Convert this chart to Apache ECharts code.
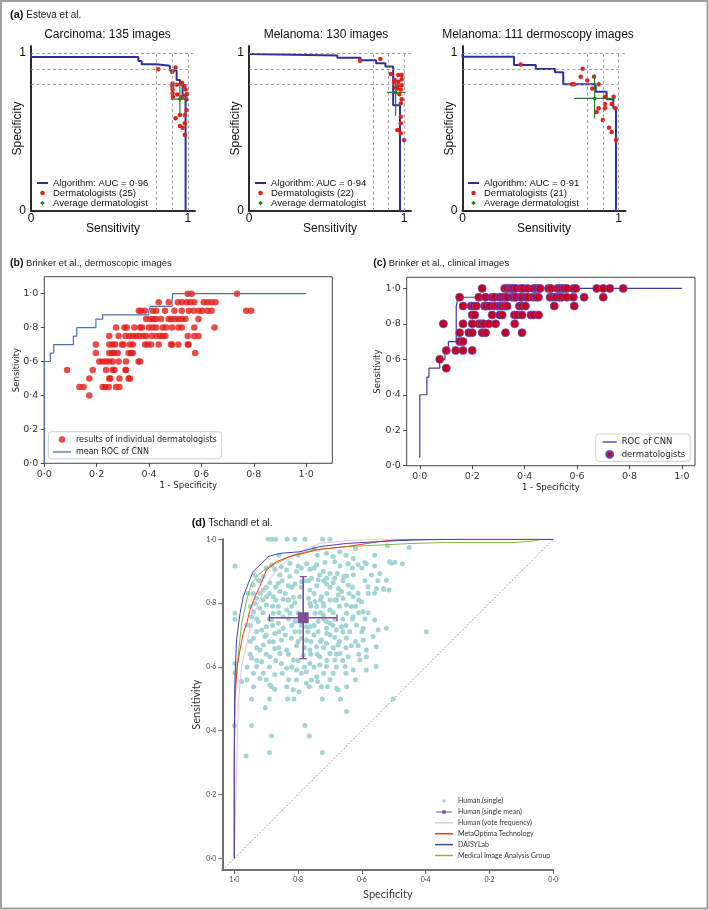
<!DOCTYPE html>
<html><head><meta charset="utf-8">
<script src="https://cdn.jsdelivr.net/npm/echarts@6/dist/echarts.min.js"></script>
<style>html,body{margin:0;padding:0;background:#fff}#c{width:709px;height:910px}</style>
</head><body><div id="c"></div>
<script>
// ---------------- Panel (a) Esteva et al. ----------------
const aTitles = ['Carcinoma: 135 images', 'Melanoma: 130 images', 'Melanoma: 111 dermoscopy images'];
const aAucNames = ['Algorithm: AUC = 0\u00b796', 'Algorithm: AUC = 0\u00b794', 'Algorithm: AUC = 0\u00b791'];
const aDermNames = ['Dermatologists (25)', 'Dermatologists (22)', 'Dermatologists (21)'];
const aRefSpec = [1.0, 0.9, 0.8];
const aRefSens = [0.8, 0.9, 1.0];
// [sensitivity, specificity] corners of the algorithm ROC
const a1Roc = [[0,0.995],[0.684,0.975],[0.705,0.95],[0.80,0.93],[0.885,0.92],[0.928,0.89],[0.949,0.83],[0.966,0.80],[0.985,0.73],[0.998,0]];
const a2Roc = [[0,0.995],[0.57,0.985],[0.72,0.97],[0.82,0.955],[0.88,0.935],[0.93,0.915],[0.974,0.67],[1.0,0]];
const a3Roc = [[0,0.995],[0.33,0.977],[0.47,0.924],[0.593,0.899],[0.646,0.878],[0.854,0.802],[0.924,0.755],[0.967,0.707],[0.984,0.65],[1.0,0]];
const a1Derm = [[0.811,0.897],[0.900,0.882],[0.921,0.909],[0.902,0.808],[0.900,0.791],[0.902,0.770],[0.962,0.812],[0.977,0.791],[0.932,0.738],[0.904,0.724],[0.985,0.770],[0.995,0.741],[0.991,0.639],[0.980,0.608],[0.949,0.608],[0.921,0.587],[0.949,0.538],[0.966,0.527],[0.980,0.555],[0.980,0.481],[0.990,0.707],[0.990,0.738],[0.902,0.745],[0.960,0.72],[0.930,0.80]];
const a2Derm = [[0.716,0.951],[0.847,0.962],[0.914,0.867],[0.963,0.861],[0.985,0.861],[0.935,0.814],[0.963,0.818],[0.985,0.835],[0.957,0.776],[0.979,0.770],[0.985,0.707],[0.979,0.682],[0.979,0.597],[0.979,0.555],[0.957,0.513],[0.979,0.492],[1.0,0.449],[0.963,0.797],[0.946,0.78],[0.985,0.797],[0.94,0.83],[0.97,0.74]];
const a3Derm = [[0.373,0.928],[0.770,0.901],[0.758,0.850],[0.80,0.827],[0.843,0.850],[0.702,0.802],[0.715,0.802],[0.832,0.776],[0.873,0.802],[0.913,0.724],[0.969,0.724],[0.913,0.677],[0.956,0.677],[0.913,0.65],[0.873,0.65],[0.86,0.627],[0.899,0.576],[0.939,0.527],[0.956,0.5],[0.984,0.449],[0.98,0.65]];
// average dermatologist: [sens, spec], sens range, spec range
const a1Avg = [0.949,0.709], a1AvgSens = [0.89,0.998], a1AvgSpec = [0.608,0.81];
const a2Avg = [0.946,0.751], a2AvgSens = [0.89,1.01], a2AvgSpec = [0.603,0.818];
const a3Avg = [0.847,0.713], a3AvgSens = [0.715,0.98], a3AvgSpec = [0.586,0.866];

// ---------------- Panel (b) Brinker dermoscopic ----------------
// [1 - specificity, sensitivity]
const bCnn = [[0,0],[0,0.5],[0.023,0.6],[0.036,0.65],[0.111,0.7],[0.124,0.75],[0.197,0.8],[0.223,0.85],[0.399,0.875],[0.405,0.9],[0.488,0.925],[0.49,0.95],[0.736,1.0],[1.0,1.0]];
const bDerm = [
[0.548,1.0],[0.563,1.0],[0.736,1.0],
[0.437,0.95],[0.475,0.95],[0.510,0.95],[0.526,0.95],[0.544,0.95],[0.557,0.95],[0.573,0.95],[0.609,0.95],[0.624,0.95],[0.639,0.95],[0.654,0.95],
[0.361,0.9],[0.369,0.9],[0.384,0.9],[0.414,0.9],[0.427,0.9],[0.461,0.9],[0.497,0.9],[0.525,0.9],[0.552,0.9],[0.571,0.9],[0.590,0.9],[0.603,0.9],[0.624,0.9],[0.639,0.9],[0.771,0.9],[0.790,0.9],
[0.389,0.85],[0.405,0.85],[0.417,0.85],[0.427,0.85],[0.446,0.85],[0.475,0.85],[0.484,0.85],[0.499,0.85],[0.512,0.85],[0.525,0.85],[0.539,0.85],[0.589,0.85],
[0.274,0.8],[0.306,0.8],[0.315,0.8],[0.344,0.8],[0.366,0.8],[0.373,0.8],[0.399,0.8],[0.414,0.8],[0.427,0.8],[0.452,0.8],[0.465,0.8],[0.488,0.8],[0.512,0.8],[0.525,0.8],[0.573,0.8],[0.650,0.8],
[0.248,0.75],[0.284,0.75],[0.310,0.75],[0.325,0.75],[0.338,0.75],[0.350,0.75],[0.363,0.75],[0.378,0.75],[0.389,0.75],[0.410,0.75],[0.427,0.75],[0.442,0.75],[0.452,0.75],[0.462,0.75],[0.548,0.75],[0.573,0.75],[0.589,0.75],
[0.197,0.7],[0.248,0.7],[0.261,0.7],[0.271,0.7],[0.297,0.7],[0.303,0.7],[0.327,0.7],[0.338,0.7],[0.385,0.7],[0.395,0.7],[0.408,0.7],[0.437,0.7],[0.484,0.7],[0.488,0.7],[0.512,0.7],[0.548,0.7],[0.551,0.7],
[0.197,0.65],[0.248,0.65],[0.258,0.65],[0.268,0.65],[0.280,0.65],[0.322,0.65],[0.331,0.65],[0.338,0.65],[0.576,0.65],
[0.210,0.6],[0.223,0.6],[0.236,0.6],[0.248,0.6],[0.261,0.6],[0.284,0.6],[0.312,0.6],[0.360,0.6],[0.366,0.6],
[0.087,0.55],[0.185,0.55],[0.236,0.55],[0.261,0.55],[0.268,0.55],[0.310,0.55],[0.312,0.55],
[0.172,0.5],[0.248,0.5],[0.252,0.5],[0.287,0.5],[0.322,0.5],[0.327,0.5],
[0.134,0.45],[0.150,0.45],[0.223,0.45],[0.233,0.45],[0.246,0.45],[0.274,0.45],[0.287,0.45],
[0.172,0.4]];

// ---------------- Panel (c) Brinker clinical ----------------
const cCnn = [[0,0.045],[0,0.35],[0.027,0.4],[0.035,0.5],[0.076,0.55],[0.096,0.6],[0.109,0.65],[0.139,0.7],[0.146,0.9],[0.352,0.95],[0.403,1.0],[1.0,1.0]];
const cDerm = [
[0.238,1],[0.324,1],[0.333,1],[0.343,1],[0.352,1],[0.358,1],[0.367,1],[0.386,1],[0.394,1],[0.411,1],[0.434,1],[0.443,1],[0.453,1],[0.459,1],[0.491,1],[0.500,1],[0.525,1],[0.533,1],[0.542,1],[0.551,1],[0.561,1],[0.586,1],[0.595,1],[0.675,1],[0.700,1],[0.725,1],[0.776,1],
[0.152,0.95],[0.225,0.95],[0.251,0.95],[0.276,0.95],[0.285,0.95],[0.305,0.95],[0.314,0.95],[0.324,0.95],[0.333,0.95],[0.352,0.95],[0.361,0.95],[0.367,0.95],[0.384,0.95],[0.390,0.95],[0.405,0.95],[0.415,0.95],[0.432,0.95],[0.444,0.95],[0.453,0.95],[0.497,0.95],[0.508,0.95],[0.519,0.95],[0.532,0.95],[0.542,0.95],[0.561,0.95],[0.586,0.95],[0.627,0.95],[0.700,0.95],
[0.165,0.9],[0.196,0.9],[0.206,0.9],[0.216,0.9],[0.247,0.9],[0.253,0.9],[0.266,0.9],[0.285,0.9],[0.295,0.9],[0.305,0.9],[0.314,0.9],[0.324,0.9],[0.333,0.9],[0.380,0.9],[0.390,0.9],[0.403,0.9],[0.513,0.9],[0.589,0.9],
[0.2,0.85],[0.21,0.85],[0.276,0.85],[0.305,0.85],[0.314,0.85],[0.361,0.85],[0.371,0.85],[0.390,0.85],[0.424,0.85],[0.434,0.85],[0.453,0.85],
[0.09,0.8],[0.165,0.8],[0.2,0.8],[0.225,0.8],[0.234,0.8],[0.244,0.8],[0.263,0.8],[0.289,0.8],[0.362,0.8],
[0.152,0.75],[0.187,0.75],[0.2,0.75],[0.238,0.75],[0.251,0.75],[0.327,0.75],[0.390,0.75],
[0.152,0.7],[0.165,0.7],
[0.101,0.65],[0.137,0.65],[0.165,0.65],[0.2,0.65],
[0.076,0.6],[0.101,0.55]];

// ---------------- Panel (d) Tschandl et al. ----------------
// [specificity, sensitivity]
const dHuman = [
[0.894,1],[0.883,1],[0.834,1],[0.779,1],[0.723,1],[0.87,1],[0.81,1],[0.70,1],[0.452,0.974],[0.513,0.93],[0.497,0.928],[0.711,0.956],[0.690,0.946],[0.669,0.961],[0.627,0.940],[0.591,0.927],
[0.75,0.97],[0.62,0.97],[0.52,0.98],[0.86,0.95],[0.80,0.95],[0.74,0.95],[0.65,0.95],[0.56,0.95],
[0.998,0.916],[0.773,0.923],[0.742,0.920],[0.716,0.927],[0.685,0.930],[0.669,0.916],[0.643,0.923],[0.612,0.920],[0.586,0.923],[0.560,0.916],[0.507,0.925],[0.473,0.923],
[0.90,0.91],[0.79,0.91],[0.75,0.91],[0.63,0.91],[0.60,0.91],
[0.873,0.906],[0.836,0.904],[0.805,0.899],[0.763,0.906],[0.732,0.888],[0.721,0.899],[0.700,0.893],[0.677,0.893],[0.648,0.885],[0.685,0.878],[0.657,0.883],[0.627,0.888],[0.570,0.888],[0.544,0.893],
[0.92,0.87],[0.85,0.87],[0.78,0.87],[0.72,0.87],[0.66,0.87],[0.59,0.87],[0.55,0.87],
[0.888,0.864],[0.862,0.862],[0.831,0.854],[0.810,0.860],[0.768,0.870],[0.737,0.873],[0.742,0.854],[0.711,0.860],[0.690,0.864],[0.674,0.846],[0.643,0.857],[0.612,0.831],[0.560,0.831],[0.532,0.846],[0.515,0.841],[0.909,0.841],[0.920,0.831],[0.857,0.836],[0.763,0.841],[0.554,0.846],[0.531,0.843],
[0.90,0.85],[0.87,0.85],[0.82,0.85],[0.79,0.85],[0.70,0.85],[0.63,0.85],
[0.94,0.83],[0.89,0.83],[0.84,0.83],[0.75,0.83],[0.71,0.83],[0.64,0.83],[0.58,0.83],
[0.930,0.815],[0.878,0.820],[0.847,0.812],[0.815,0.818],[0.768,0.815],[0.747,0.805],[0.727,0.820],[0.700,0.810],[0.674,0.825],[0.659,0.815],[0.627,0.820],[0.899,0.794],[0.862,0.789],[0.836,0.778],[0.810,0.801],[0.742,0.789],[0.700,0.778],[0.648,0.794],[0.596,0.773],[0.560,0.747],[0.940,0.773],[0.920,0.784],[0.946,0.757],
[0.91,0.81],[0.87,0.81],[0.83,0.81],[0.73,0.81],[0.68,0.81],[0.61,0.81],
[0.95,0.79],[0.88,0.79],[0.82,0.79],[0.76,0.79],[0.72,0.79],[0.67,0.79],[0.62,0.79],
[0.91,0.77],[0.86,0.77],[0.80,0.77],[0.73,0.77],[0.69,0.77],[0.61,0.77],[0.58,0.77],
[0.93,0.75],[0.89,0.75],[0.83,0.75],[0.72,0.75],[0.66,0.75],[0.63,0.75],[0.59,0.75],
[0.998,0.768],[0.998,0.749],[0.961,0.731],[0.914,0.716],[0.883,0.747],[0.862,0.737],[0.826,0.768],[0.810,0.742],[0.747,0.768],[0.721,0.763],[0.711,0.742],[0.685,0.749],[0.648,0.768],[0.627,0.757],[0.617,0.731],[0.596,0.721],[0.549,0.716],[0.904,0.695],[0.873,0.705],[0.847,0.721],[0.763,0.726],[0.737,0.710],[0.711,0.721],[0.680,0.716],[0.398,0.710],
[0.95,0.73],[0.88,0.73],[0.82,0.73],[0.79,0.73],[0.75,0.73],[0.69,0.73],[0.65,0.73],
[0.93,0.71],[0.86,0.71],[0.81,0.71],[0.77,0.71],[0.71,0.705],[0.66,0.71],[0.60,0.71],
[0.90,0.70],[0.84,0.70],[0.75,0.70],[0.70,0.70],
[0.940,0.690],[0.909,0.669],[0.878,0.679],[0.836,0.653],[0.821,0.690],[0.805,0.666],[0.774,0.684],[0.742,0.663],[0.711,0.674],[0.685,0.693],[0.648,0.690],[0.633,0.666],[0.612,0.666],[0.586,0.653],[0.555,0.663],[0.888,0.632],[0.857,0.642],[0.815,0.622],[0.784,0.637],[0.732,0.632],[0.700,0.642],[0.669,0.642],
[0.95,0.68],[0.89,0.68],[0.80,0.68],[0.76,0.68],[0.73,0.68],[0.67,0.68],[0.62,0.68],
[0.93,0.66],[0.86,0.66],[0.78,0.66],[0.72,0.66],[0.69,0.66],[0.65,0.66],
[0.95,0.64],[0.90,0.64],[0.83,0.64],[0.76,0.64],[0.74,0.64],[0.68,0.64],[0.61,0.64],
[0.93,0.62],[0.87,0.62],[0.80,0.62],[0.71,0.62],[0.66,0.62],
[0.998,0.611],[0.946,0.627],[0.930,0.601],[0.909,0.580],[0.873,0.575],[0.836,0.596],[0.805,0.590],[0.774,0.585],[0.742,0.569],[0.711,0.601],[0.690,0.580],[0.653,0.601],[0.627,0.590],[0.586,0.590],[0.555,0.601],[0.998,0.582],
[0.96,0.60],[0.89,0.60],[0.82,0.60],[0.78,0.60],[0.75,0.60],[0.68,0.60],
[0.94,0.58],[0.85,0.58],[0.79,0.58],[0.72,0.58],[0.65,0.58],
[0.96,0.56],[0.90,0.56],[0.83,0.56],[0.70,0.56],[0.62,0.56],
[0.940,0.538],[0.888,0.543],[0.836,0.538],[0.774,0.549],[0.727,0.538],[0.680,0.533],
[0.977,0.554],[0.883,0.538],[0.873,0.530],[0.815,0.528],[0.797,0.522],[0.765,0.538],[0.739,0.554],[0.708,0.538],[0.675,0.528],[0.648,0.538],
[0.946,0.499],[0.890,0.499],[0.833,0.499],[0.813,0.499],[0.724,0.499],[0.667,0.499],[0.502,0.499],[0.903,0.472],[0.648,0.460],
[1.0,0.416],[0.946,0.416],[0.779,0.416],[0.883,0.383],[0.765,0.383],[0.963,0.321],[0.890,0.332],[0.724,0.332],
[0.935,0.888],[0.925,0.872],[0.941,0.857],[0.909,0.883],[0.956,0.831],[0.899,0.820],[0.935,0.799],[0.883,0.919],[0.852,0.914],[0.826,0.925],[0.800,0.916],
[0.857,0.888],[0.826,0.883],[0.789,0.867],[0.758,0.878],[0.711,0.878],[0.664,0.836],[0.685,0.810],[0.721,0.799],[0.763,0.799],[0.795,0.820],[0.831,0.810],
[0.878,0.768],[0.847,0.757],[0.737,0.742],[0.700,0.737],[0.664,0.726],[0.638,0.710],[0.925,0.742],[0.899,0.726],[0.795,0.710],[0.774,0.726],
[0.852,0.684],[0.789,0.690],[0.727,0.684],[0.675,0.669],[0.920,0.653],[0.873,0.658],[0.763,0.653],[0.685,0.622],[0.643,0.632],[0.607,0.622],
[0.914,0.616],[0.852,0.611],[0.763,0.611],[0.732,0.606],[0.920,0.564],[0.805,0.559],[0.758,0.559],[0.586,0.632],[0.596,0.684],[0.565,0.695],[0.523,0.721],
[0.633,0.789],[0.601,0.804],[0.581,0.851],[0.523,0.872]];
const dMean = [0.784, 0.754], dMeanSpec = [0.890, 0.678], dMeanSens = [0.626, 0.883];
const dVote = [[1.0,0],[0.993,0.27],[0.987,0.496],[0.977,0.6],[0.961,0.674],[0.946,0.737],[0.925,0.8],[0.904,0.846],[0.883,0.883],[0.857,0.914],[0.826,0.94],[0.784,0.966],[0.732,0.987],[0.648,0.996],[0.544,1.0],[0,1.0]];
const dMeta = [[1.0,0],[1.0,0.3],[0.998,0.496],[0.991,0.6],[0.982,0.653],[0.972,0.705],[0.961,0.737],[0.951,0.778],[0.935,0.82],[0.920,0.852],[0.899,0.904],[0.868,0.93],[0.826,0.946],[0.784,0.956],[0.732,0.969],[0.648,0.977],[0.544,0.993],[0.492,0.998],[0.35,1.0],[0,1.0]];
const dDaisy = [[1.0,0],[1.0,0.37],[0.998,0.56],[0.993,0.684],[0.982,0.768],[0.972,0.82],[0.956,0.862],[0.941,0.899],[0.914,0.925],[0.894,0.946],[0.857,0.956],[0.794,0.961],[0.732,0.977],[0.648,0.987],[0.544,0.993],[0.44,0.998],[0.29,1.0],[0,1.0]];
const dMedia = [[1.0,0],[1.0,0.3],[0.998,0.538],[0.987,0.643],[0.977,0.737],[0.961,0.81],[0.946,0.862],[0.925,0.888],[0.894,0.914],[0.857,0.93],[0.815,0.951],[0.753,0.966],[0.648,0.977],[0.544,0.982],[0.44,0.987],[0.335,0.99],[0.121,0.99],[0.121,0.995],[0.059,0.995],[0.038,1.0],[0,1.0]];
const dChance = [[1.0376,-0.0376],[0,1]];
const dTicks = [0, 0.2, 0.4, 0.6, 0.8, 1.0];

// ---------------- build ----------------
const dot = v => v.toFixed(1).replace('.', '\u00b7');
const HEL = 'Liberation Sans, Arial, sans-serif';
const DJV = 'DejaVu Sans, sans-serif';
const LAT = 'Lato, Open Sans, sans-serif';
const lineIcon = (w, t) => 'path://M0,0h' + w + 'v' + t + 'h-' + w + 'z';
const DIAMOND = 'path://M2,0L4,2L2,4L0,2z';
const MEAN_ICON = 'path://M0,1.4h18v1.2h-18zM7,0h4v4h-4z';

const grids = [
  {left:31, top:46, width:164, height:165},
  {left:249, top:46, width:162, height:165},
  {left:462.5, top:46, width:163, height:165},
  {left:44.3, top:276.7, width:288, height:186.6, show:true, borderColor:'#333', borderWidth:0.9, backgroundColor:'transparent'},
  {left:406.7, top:277.3, width:288.3, height:188.4, show:true, borderColor:'#333', borderWidth:0.9, backgroundColor:'transparent'},
  {left:222.3, top:539.3, width:331, height:330.7}
];
grids.forEach(g => { g.outerBoundsMode = 'none'; g.containLabel = false; });

const xAxes = [], yAxes = [];
for (let i = 0; i < 3; i++) {
  xAxes.push({gridIndex:i, type:'value', min:0, max:1.045, nameMoveOverlap:false,
    axisLine:{show:true, onZero:false, lineStyle:{color:'#2a2a2a', width:2}}, axisTick:{show:false}, splitLine:{show:false},
    axisLabel:{customValues:[0,1], fontSize:12, color:'#111', margin:2, fontFamily:HEL},
    name:'Sensitivity', nameLocation:'middle', nameGap:12, nameTextStyle:{fontSize:12, color:'#111', fontFamily:HEL}});
  yAxes.push({gridIndex:i, type:'value', min:0, max:1.045, nameMoveOverlap:false,
    axisLine:{show:true, onZero:false, lineStyle:{color:'#2a2a2a', width:2}}, axisTick:{show:false}, splitLine:{show:false},
    axisLabel:{customValues:[0,1], fontSize:12, color:'#111', margin:5, fontFamily:HEL},
    name:'Specificity', nameLocation:'middle', nameGap:7, nameTextStyle:{fontSize:12, color:'#111', fontFamily:HEL}});
}
function boxAxis(gi, min, max, name, gap) {
  return {gridIndex:gi, type:'value', min:min, max:max, nameMoveOverlap:false,
    axisLine:{show:false, onZero:false}, splitLine:{show:false},
    axisTick:{show:true, customValues:[0,0.2,0.4,0.6,0.8,1.0], length:3.5, lineStyle:{color:'#333', width:0.9}},
    axisLabel:{customValues:[0,0.2,0.4,0.6,0.8,1.0], formatter:dot, fontSize:9.5, color:'#333', margin:6, fontFamily:DJV},
    name:name, nameLocation:'middle', nameGap:gap, nameTextStyle:{fontSize:8.5, color:'#222', fontFamily:DJV}};
}
xAxes.push(boxAxis(3, 0, 1.1, '1 - Specificity', 18));
yAxes.push(boxAxis(3, 0, 1.1, 'Sensitivity', 23));
xAxes.push(boxAxis(4, -0.05, 1.05, '1 - Specificity', 18));
yAxes.push(boxAxis(4, 0, 1.0625, 'Sensitivity', 24));
function dAxis(gi, min, max, name, gap, inverse) {
  return {gridIndex:gi, type:'value', min:min, max:max, inverse:inverse, nameMoveOverlap:false,
    axisLine:{show:true, onZero:false, lineStyle:{color:'#6f6f6f', width:2}}, splitLine:{show:false},
    axisTick:{show:true, customValues:dTicks, length:4, lineStyle:{color:'#6f6f6f', width:1.2}},
    axisLabel:{customValues:dTicks, formatter:dot, fontSize:7, color:'#444', margin:6, fontFamily:LAT},
    name:name, nameLocation:'middle', nameGap:gap, nameTextStyle:{fontSize:11, color:'#333', fontFamily:LAT}};
}
xAxes.push(dAxis(5, 0, 1.0376, 'Specificity', 19, true));
yAxes.push(dAxis(5, -0.0367, 1, 'Sensitivity', 20, false));

const series = [];
const aData = [
  [a1Roc, a1Derm, a1Avg, a1AvgSens, a1AvgSpec],
  [a2Roc, a2Derm, a2Avg, a2AvgSens, a2AvgSpec],
  [a3Roc, a3Derm, a3Avg, a3AvgSens, a3AvgSpec]
];
const BLUE_A = '#30309a', RED_A = '#e3201b', GREEN_A = '#2b7a2b';
aData.forEach((d, i) => {
  const [roc, derm, avg, avgSens, avgSpec] = d;
  const ml = [];
  aRefSpec.forEach(y => ml.push([{coord:[0, y]}, {coord:[y === 1 ? 1.045 : 1, y]}]));
  aRefSens.forEach(x => ml.push([{coord:[x, 0]}, {coord:[x, 1]}]));
  series.push({type:'line', name:aAucNames[i], xAxisIndex:i, yAxisIndex:i, data:roc, step:'start', symbol:'none',
    lineStyle:{color:BLUE_A, width:2}, itemStyle:{color:BLUE_A}, z:3,
    markLine:{silent:true, symbol:['none','none'], label:{show:false}, animation:false,
      lineStyle:{type:[3,2.5], color:'#8c8c8c', width:0.8}, data:ml}});
  series.push({type:'scatter', name:aDermNames[i], xAxisIndex:i, yAxisIndex:i, data:derm, symbolSize:4.5,
    itemStyle:{color:RED_A, opacity:1}, z:4});
  series.push({type:'line', name:'_ah'+i, xAxisIndex:i, yAxisIndex:i, data:[[avgSens[0], avg[1]], [avgSens[1], avg[1]]],
    symbol:'none', lineStyle:{color:GREEN_A, width:1.2}, z:5});
  series.push({type:'line', name:'_av'+i, xAxisIndex:i, yAxisIndex:i, data:[[avg[0], avgSpec[0]], [avg[0], avgSpec[1]]],
    symbol:'none', lineStyle:{color:GREEN_A, width:1.2}, z:5});
  series.push({type:'scatter', name:'Average dermatologist', xAxisIndex:i, yAxisIndex:i, data:[avg], symbol:'diamond', symbolSize:5,
    itemStyle:{color:GREEN_A, opacity:1}, z:6});
});
// (b)
series.push({type:'scatter', name:'results of individual dermatologists', xAxisIndex:3, yAxisIndex:3, data:bDerm, symbolSize:6.5,
  itemStyle:{color:'rgba(228,30,28,0.8)', opacity:1}, z:3});
series.push({type:'line', name:'mean ROC of CNN', xAxisIndex:3, yAxisIndex:3, data:bCnn, step:'start', symbol:'none',
  lineStyle:{color:'#4a72b0', width:1.2}, itemStyle:{color:'#4a72b0'}, z:4});
// (c)
series.push({type:'line', name:'ROC of CNN', xAxisIndex:4, yAxisIndex:4, data:cCnn, step:'start', symbol:'none',
  lineStyle:{color:'#3b3ba0', width:1.2}, itemStyle:{color:'#3b3ba0'}, z:3});
series.push({type:'scatter', name:'dermatologists', xAxisIndex:4, yAxisIndex:4, data:cDerm, symbolSize:8,
  itemStyle:{color:'#c8001e', borderColor:'#5656c8', borderWidth:0.8, opacity:1}, z:4});
// (d)
const PURPLE = '#7b4f9d';
series.push({type:'line', name:'_chance', xAxisIndex:5, yAxisIndex:5, data:dChance, symbol:'none',
  lineStyle:{color:'#777', width:0.9, type:[1.5,2]}, z:1});
series.push({type:'scatter', name:'Human (single)', xAxisIndex:5, yAxisIndex:5, data:dHuman, symbolSize:5,
  itemStyle:{color:'#a3d4d5', opacity:1}, z:2});
series.push({type:'line', name:'Human (vote frequency)', xAxisIndex:5, yAxisIndex:5, data:dVote, symbol:'none',
  lineStyle:{color:'#e2c4e2', width:1}, itemStyle:{color:'#e2c4e2'}, z:3});
series.push({type:'line', name:'Medical Image Analysis Group', xAxisIndex:5, yAxisIndex:5, data:dMedia, symbol:'none',
  lineStyle:{color:'#7cbf45', width:1}, itemStyle:{color:'#7cbf45'}, z:3});
series.push({type:'line', name:'MetaOptima Technology', xAxisIndex:5, yAxisIndex:5, data:dMeta, symbol:'none',
  lineStyle:{color:'#ef3b24', width:1}, itemStyle:{color:'#ef3b24'}, z:3});
series.push({type:'line', name:'DAISYLab', xAxisIndex:5, yAxisIndex:5, data:dDaisy, symbol:'none',
  lineStyle:{color:'#4444b2', width:1}, itemStyle:{color:'#4444b2'}, z:3});
series.push({type:'line', name:'Human (single mean)', xAxisIndex:5, yAxisIndex:5,
  data:[[dMeanSpec[0], dMean[1]], dMean, [dMeanSpec[1], dMean[1]]], symbol:'rect',
  symbolSize:(v, p) => p.dataIndex === 1 ? 11 : [1.3, 7],
  lineStyle:{color:PURPLE, width:1.6}, itemStyle:{color:PURPLE}, z:6});
series.push({type:'line', name:'_meanV', xAxisIndex:5, yAxisIndex:5,
  data:[[dMean[0], dMeanSens[0]], [dMean[0], dMeanSens[1]]], symbol:'rect', symbolSize:[7, 1.3],
  lineStyle:{color:PURPLE, width:1.6}, itemStyle:{color:PURPLE}, z:5});

const aLegPos = [[37,178],[255,178],[468,178]];
const legends = aLegPos.map((p, i) => ({
  left:p[0], top:p[1], orient:'vertical', padding:0, itemGap:0, itemWidth:11, itemHeight:4.5, selectedMode:false, symbolKeepAspect:true,
  textStyle:{fontSize:9.5, lineHeight:8, color:'#111', fontFamily:HEL},
  data:[{name:aAucNames[i], icon:lineIcon(11, 2)}, aDermNames[i], {name:'Average dermatologist', icon:DIAMOND}]
}));
legends.push({left:48.3, top:431.7, orient:'vertical', padding:[3,5,2,4.7], itemGap:3, itemWidth:18, itemHeight:6.5, selectedMode:false, symbolKeepAspect:true,
  borderColor:'#cfcfcf', borderWidth:1, borderRadius:3, backgroundColor:'rgba(255,255,255,0.85)',
  textStyle:{fontSize:8, lineHeight:9.5, color:'#222', fontFamily:DJV},
  data:['results of individual dermatologists', {name:'mean ROC of CNN', icon:lineIcon(18, 1.3)}]});
legends.push({left:595.7, top:434, orient:'vertical', padding:[3.5,5,2.5,7], itemGap:3.4, itemWidth:14, itemHeight:7, selectedMode:false, symbolKeepAspect:true,
  borderColor:'#cfcfcf', borderWidth:1, borderRadius:3, backgroundColor:'rgba(255,255,255,0.85)',
  textStyle:{fontSize:8.5, lineHeight:9, color:'#222', fontFamily:DJV},
  data:[{name:'ROC of CNN', icon:lineIcon(14, 1.3)}, 'dermatologists']});
legends.push({left:435, top:797, orient:'vertical', padding:0, itemGap:2.9, itemWidth:18, itemHeight:3.5, selectedMode:false, symbolKeepAspect:true,
  textStyle:{fontSize:7, lineHeight:8, color:'#333', fontFamily:LAT},
  data:['Human (single)', {name:'Human (single mean)', icon:MEAN_ICON},
    {name:'Human (vote frequency)', icon:lineIcon(18, 1.5)}, {name:'MetaOptima Technology', icon:lineIcon(18, 1.5)},
    {name:'DAISYLab', icon:lineIcon(18, 1.5)}, {name:'Medical Image Analysis Group', icon:lineIcon(18, 1.5)}]});

function txt(x, y, parts, size, font, align) {
  return {type:'text', x:x, y:y, silent:true, style:{text:parts, x:0, y:0, align:align || 'left', verticalAlign:'middle',
    font:size + 'px ' + font, fill:'#111',
    rich:{b:{fontWeight:'bold', fontSize:size + 1, fontFamily:font, fill:'#111'}, n:{fontSize:size, fontFamily:font, fill:'#222'}}}};
}
const graphics = [
  {type:'rect', silent:true, shape:{x:1, y:1, width:706.5, height:907.5}, style:{fill:'none', stroke:'#a0a0a0', lineWidth:2}},
  txt(10, 15, '{b|(a)} {n|Esteva et al.}', 10, HEL),
  txt(107.5, 35, aTitles[0], 12, HEL, 'center'),
  txt(326, 35, aTitles[1], 12, HEL, 'center'),
  txt(538, 35, aTitles[2], 12, HEL, 'center'),
  txt(10, 263.3, '{b|(b)} {n|Brinker et al., dermoscopic images}', 9.5, HEL),
  txt(373.3, 263.3, '{b|(c)} {n|Brinker et al., clinical images}', 9.5, HEL),
  txt(191.7, 523.3, '{b|(d)} {n|Tschandl et al.}', 10, HEL)
];

const chart = echarts.init(document.getElementById('c'), null, {renderer:'canvas'});
chart.setOption({
  animation:false, backgroundColor:'#fff',
  grid:grids, xAxis:xAxes, yAxis:yAxes, series:series, legend:legends, graphic:graphics
});
</script></body></html>
